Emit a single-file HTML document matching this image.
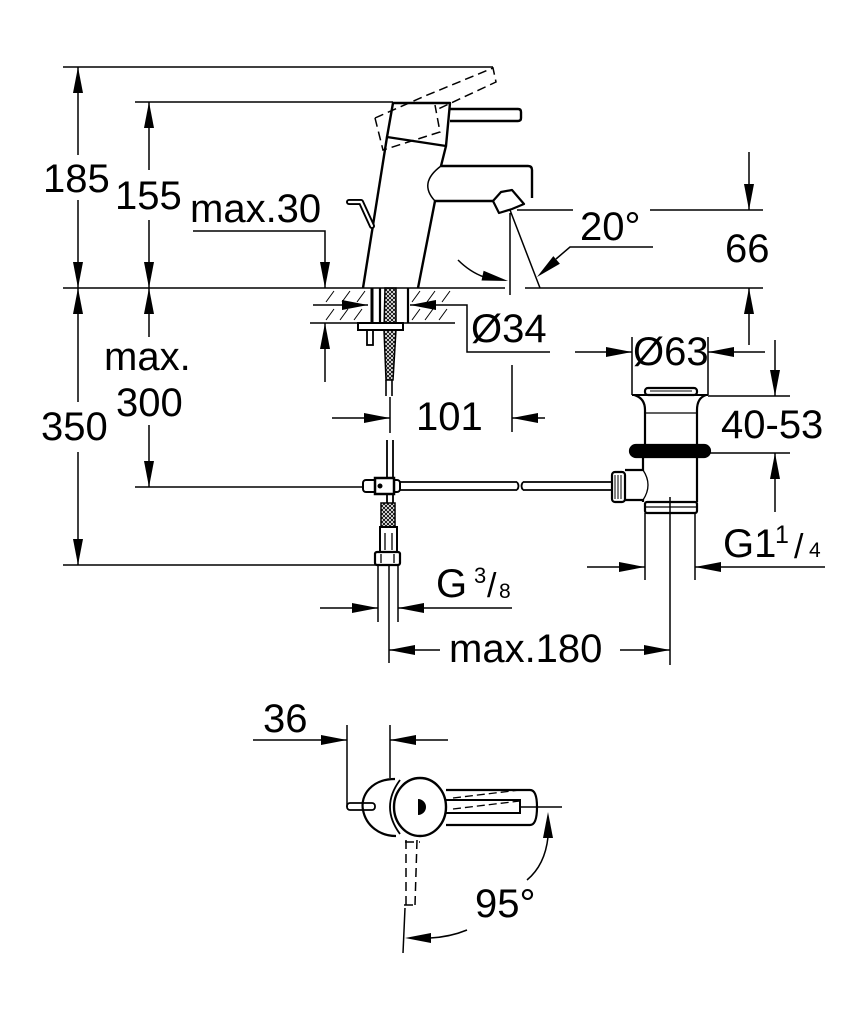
<!DOCTYPE html>
<html><head><meta charset="utf-8">
<style>
html,body{margin:0;padding:0;background:#fff}
svg{display:block}
text{font-family:"Liberation Sans",sans-serif;fill:#000}
</style></head>
<body>
<svg width="852" height="1024" viewBox="0 0 852 1024" xmlns="http://www.w3.org/2000/svg">
<defs>
<path id="a" d="M0,0 L-26,-5 L-26,5Z" fill="#000"/>
<pattern id="x" width="4" height="4" patternUnits="userSpaceOnUse"><path d="M0,0L4,4M4,0L0,4" stroke="#000" stroke-width="0.9"/></pattern>
</defs>

<!-- dimension / extension lines -->
<g stroke="#000" stroke-width="1.5" fill="none">
<path d="M63,67H493 M135,102H393"/>
<path d="M78,67V155 M78,200V288 M149,102V170 M149,220V288"/>
<path d="M193,231H325V288"/>
<path d="M63,288H505 M525,288H763"/>
<path d="M78,288V402 M78,452V565 M149,288V337 M149,425V487"/>
<path d="M135,487H365 M63,565H378"/>
<path d="M310,323H455 M325,323V382"/>
<path d="M313,305H368 M410,305H467V352H550"/>
<path d="M510,213V295 M510,210L540,288"/>
<path d="M458,260Q470,272 484,277"/>
<path d="M653,247H570L556,259"/>
<path d="M517,210H573 M650,210H763 M749,152V210 M749,288V345"/>
<path d="M332,418H390 M512,418H545 M512,365V432 M390,397V433"/>
<path d="M575,352H632 M708,352H765 M632,337V395 M708,337V395"/>
<path d="M775,340V396 M708,396H790 M708,453H790 M775,453V512"/>
<path d="M645,513V580 M695,513V580 M587,567H645 M695,567H825"/>
<path d="M378,565V622 M398,565V622 M389,565V663 M320,608H378 M398,608H512"/>
<path d="M389,650H440 M620,650H670 M670,497V665"/>
<path d="M253,740H347 M390,740H448 M347,725V807 M390,725V778"/>
<path d="M520,807H562"/>
<path d="M548,837Q545,865 527,880"/>
<path d="M467,930Q450,937 430,938"/>
<path d="M405,908L403,953"/>
<!-- hatch -->
<path stroke-width="1" d="M326,302L334,291 M342,302L350,291 M357,302L365,291 M326,320L334,309 M340,320L348,309 M354,320L362,309 M412,302L420,291 M427,302L435,291 M442,302L450,291 M412,320L420,309 M425,320L433,309 M439,320L447,309"/>
</g>

<!-- arrowheads -->
<use href="#a" transform="translate(78,67) rotate(-90)"/>
<use href="#a" transform="translate(78,288) rotate(90)"/>
<use href="#a" transform="translate(149,102) rotate(-90)"/>
<use href="#a" transform="translate(149,288) rotate(90)"/>
<use href="#a" transform="translate(325,288) rotate(90)"/>
<use href="#a" transform="translate(78,288) rotate(-90)"/>
<use href="#a" transform="translate(78,565) rotate(90)"/>
<use href="#a" transform="translate(149,288) rotate(-90)"/>
<use href="#a" transform="translate(149,487) rotate(90)"/>
<use href="#a" transform="translate(325,323) rotate(-90)"/>
<use href="#a" transform="translate(368,305) rotate(0)"/>
<use href="#a" transform="translate(410,305) rotate(180)"/>
<use href="#a" transform="translate(749,210) rotate(90)"/>
<use href="#a" transform="translate(749,288) rotate(-90)"/>
<use href="#a" transform="translate(390,418) rotate(0)"/>
<use href="#a" transform="translate(512,418) rotate(180)"/>
<use href="#a" transform="translate(632,352) rotate(0)"/>
<use href="#a" transform="translate(708,352) rotate(180)"/>
<use href="#a" transform="translate(775,396) rotate(90)"/>
<use href="#a" transform="translate(775,453) rotate(-90)"/>
<use href="#a" transform="translate(645,567) rotate(0)"/>
<use href="#a" transform="translate(695,567) rotate(180)"/>
<use href="#a" transform="translate(378,608) rotate(0)"/>
<use href="#a" transform="translate(398,608) rotate(180)"/>
<use href="#a" transform="translate(389,650) rotate(180)"/>
<use href="#a" transform="translate(670,650) rotate(0)"/>
<use href="#a" transform="translate(347,740) rotate(0)"/>
<use href="#a" transform="translate(390,740) rotate(180)"/>
<use href="#a" transform="translate(548,812) rotate(-90)"/>
<use href="#a" transform="translate(405,938) rotate(180)"/>
<use href="#a" transform="translate(508,281) rotate(12)"/>
<use href="#a" transform="translate(537,277) rotate(139)"/>

<!-- faucet side view -->
<g stroke="#000" stroke-width="2.4" fill="none" stroke-linejoin="round">
<path d="M393,103 L450,103 L446,146 L387,137 Z"/>
<path d="M450,109 H518 Q521,109 521,112 V118 Q521,121 518,121 H450"/>
<path d="M387,137 L363,288"/>
<path d="M446,146 L441,166 H528 Q532,166 532,170 V198"/>
<path d="M493,201 H435 L418,288"/>
<path d="M493,201 L501,192 L512,190 L524,204 L512,209 L499,213 Z" stroke-width="2.2"/>
<path d="M441,166 Q418,183 435,201" stroke-width="1.5"/>
</g>
<path d="M375,118 L383,150 L440,132 L435,105 M375,118 L425,96 L493,68 L496,82 L436,110" stroke="#000" stroke-width="1.5" fill="none" stroke-dasharray="9 5"/>
<path d="M349,202 H361 L372,226" stroke="#000" stroke-width="6" fill="none" stroke-linecap="round" stroke-linejoin="round"/>
<path d="M349,202 H361 L372,226" stroke="#fff" stroke-width="2.2" fill="none" stroke-linecap="round" stroke-linejoin="round"/>

<!-- shank under counter -->
<g stroke="#000" fill="none">
<path d="M372,288V323" stroke-width="3"/>
<path d="M380,288V323 M408,288V323" stroke-width="2.2"/>
<path d="M385,288 L396,288 L396,330 L393,380 L386,380 L384,330 Z" fill="url(#x)" stroke-width="1.5"/>
<rect x="358" y="323" width="45" height="7" stroke-width="2" fill="#fff"/>
<rect x="367" y="330" width="6" height="15" stroke-width="1.8"/>
<path d="M386,380V396 M392,380V396" stroke-width="1.6"/>
</g>

<!-- tee / supply -->
<g stroke="#000" fill="none">
<path d="M387,440V480 M393,440V480 M387,492V503 M393,492V503" stroke-width="1.8"/>
<path d="M400,482H517 M400,490H517 M523,482H612 M523,490H612 M517,482Q520,486 517,490 M523,482Q520,486 523,490" stroke-width="1.8"/>
<rect x="363" y="480" width="37" height="12" rx="3" stroke-width="2" fill="#fff"/>
<rect x="375" y="478" width="19" height="16" stroke-width="2.5" fill="#fff"/>
<circle cx="380" cy="486" r="2.5" fill="#000" stroke="none"/>
<rect x="381" y="503" width="14" height="24" fill="url(#x)" stroke-width="1.5"/>
<rect x="380" y="527" width="17" height="25" stroke-width="2" fill="#fff"/>
<path d="M385,533V550 M392,533V550" stroke-width="1.3"/>
<rect x="375" y="552" width="25" height="13" rx="2" stroke-width="2.2" fill="#fff"/>
<path d="M381,554V563 M394,554V563" stroke-width="1.3"/>
</g>

<!-- drain -->
<g stroke="#000" fill="none" stroke-width="2.2">
<rect x="645" y="388" width="52" height="7" rx="3"/>
<path d="M650,391H692" stroke-width="1"/>
<path d="M632,395H708" stroke-width="2"/>
<path d="M634,395 Q645,398 645,410 V445 M706,395 Q697,398 697,410 V445"/>
<path d="M645,413H697" stroke-width="1.2"/>
<rect x="630" y="445" width="80" height="12" rx="6" fill="#000"/>
<path d="M643,457V470 H625 M625,500 H643 V502 M697,457V502"/>
<path d="M643,470 Q653,485 643,500" stroke-width="1.3"/>
<rect x="612" y="472" width="13" height="30" rx="3" fill="#fff"/>
<path d="M615,475V499 M618,475V499 M621,475V499" stroke-width="1"/>
<rect x="645" y="502" width="52" height="11" rx="2"/>
<path d="M645,507H697" stroke-width="1.2"/>
</g>

<!-- top view -->
<g stroke="#000" fill="none" stroke-width="2.2">
<rect x="347" y="803" width="28" height="7" rx="3" stroke-width="1.8"/>
<path d="M395,779 C372,779 360,795 363,810 C366,826 380,836 396,836"/>
<path d="M400,780 Q380,807 400,834" stroke-width="1.8"/>
<ellipse cx="420" cy="807" rx="26" ry="29" stroke-width="2.4"/>
<path d="M446,790 H530 Q537,790 537,807 Q537,825 530,825 H446"/>
<path d="M446,800 H520 V813 H446" stroke-width="2"/>
<path d="M453,798 L520,790 M453,809 L520,801" stroke-width="1.3" stroke-dasharray="8 4"/>
<path d="M406,840 V905 M417,840 L415,905 M404,905 H418 M405,842 H420" stroke-width="1.5" stroke-dasharray="9 5"/>
</g>
<path d="M418,799 A8,8 0 0 1 418,815 Z" fill="#000"/>

<!-- labels -->
<g font-size="40">
<text x="43" y="192">185</text>
<text x="115" y="209">155</text>
<text x="190" y="222">max.30</text>
<text x="580" y="240">20°</text>
<text x="725" y="262">66</text>
<text x="471" y="342">Ø34</text>
<text x="633" y="365">Ø63</text>
<text x="104" y="370">max.</text>
<text x="116" y="416">300</text>
<text x="416" y="430">101</text>
<text x="41" y="440">350</text>
<text x="721" y="438">40-53</text>
<text x="723" y="557">G1</text>
<text x="436" y="597">G</text>
<text x="449" y="662">max.180</text>
<text x="263" y="732">36</text>
<text x="475" y="917">95°</text>
</g>
<text x="775" y="543" font-size="25">1</text>
<text x="794" y="558" font-size="34">/</text>
<text x="809" y="557" font-size="21">4</text>
<text x="474" y="583" font-size="22">3</text>
<text x="487" y="597" font-size="34">/</text>
<text x="499" y="598" font-size="21">8</text>
</svg>
</body></html>
